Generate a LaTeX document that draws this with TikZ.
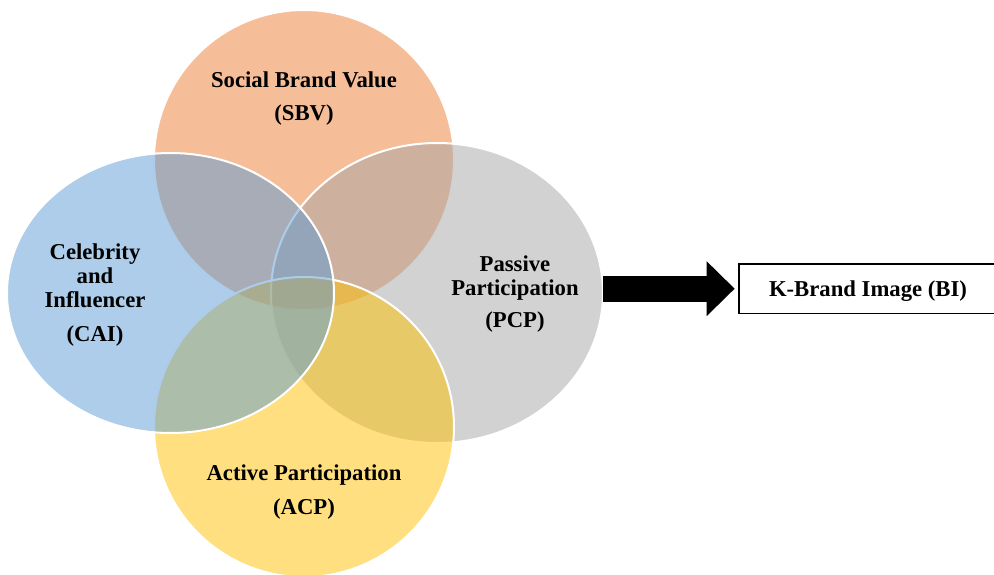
\documentclass[tikz,border=0pt]{standalone}
\usepackage{fontspec}
\setmainfont{Liberation Serif}
\usetikzlibrary{shapes.geometric,arrows.meta}

% Office theme accent colours
\definecolor{accOrange}{HTML}{ED7D31}
\definecolor{accBlue}{HTML}{5B9BD5}
\definecolor{accGray}{HTML}{A5A5A5}
\definecolor{accYellow}{HTML}{FFC000}

\begin{document}
\begin{tikzpicture}[x=1pt,y=-1pt,
  venn/.style={ellipse, inner sep=0pt, outer sep=0pt, draw=white,
    line width=2pt, fill opacity=0.5},
  lbl/.style={anchor=base, inner sep=0pt,
    font=\fontsize{22.7}{24}\selectfont\bfseries},
  bigarrow/.style={line width=26pt,
    -{Triangle[length=28pt,width=55pt,line width=0pt]}, shorten >=3.5pt},
  resultbox/.style={draw, line width=1.8pt, inner sep=0pt,
    minimum width=258pt, minimum height=49.5pt,
    text height=15pt, text depth=0pt,
    font=\fontsize{22.7}{24}\selectfont\bfseries}
]
\useasboundingbox (0,0) rectangle (994,575);

% four overlapping sets, drawn back to front
\node[venn, fill=accOrange, minimum width=300pt, minimum height=300pt] (sbv) at (304,160) {};
\node[venn, fill=accGray,   minimum width=332pt, minimum height=300pt] (pcp) at (437,293) {};
\node[venn, fill=accYellow, minimum width=300pt, minimum height=300pt] (acp) at (304,427) {};
\node[venn, fill=accBlue,   minimum width=327pt, minimum height=280pt] (cai) at (170.5,293) {};

% set labels
\node[lbl] (sbvA) at (304,88)    {Social Brand Value};
\node[lbl] (sbvB) at (304,120.5) {(SBV)};

\node[lbl] (caiA) at (95,259)    {Celebrity};
\node[lbl] (caiB) at (95,283.5)  {and};
\node[lbl] (caiC) at (95,307.5)  {Influencer};
\node[lbl] (caiD) at (95,341)    {(CAI)};

\node[lbl] (pcpA) at (515,271.5) {Passive};
\node[lbl] (pcpB) at (515,295)   {Participation};
\node[lbl] (pcpC) at (515,327.5) {(PCP)};

\node[lbl] (acpA) at (304,480)   {Active Participation};
\node[lbl] (acpB) at (304,514.5) {(ACP)};

% outcome
\node[resultbox] (bi) at (868,288.7) {K-Brand Image (BI)};

\draw[bigarrow] (bi.west -| pcp.east) -- (bi.west);
\end{tikzpicture}
\end{document}
